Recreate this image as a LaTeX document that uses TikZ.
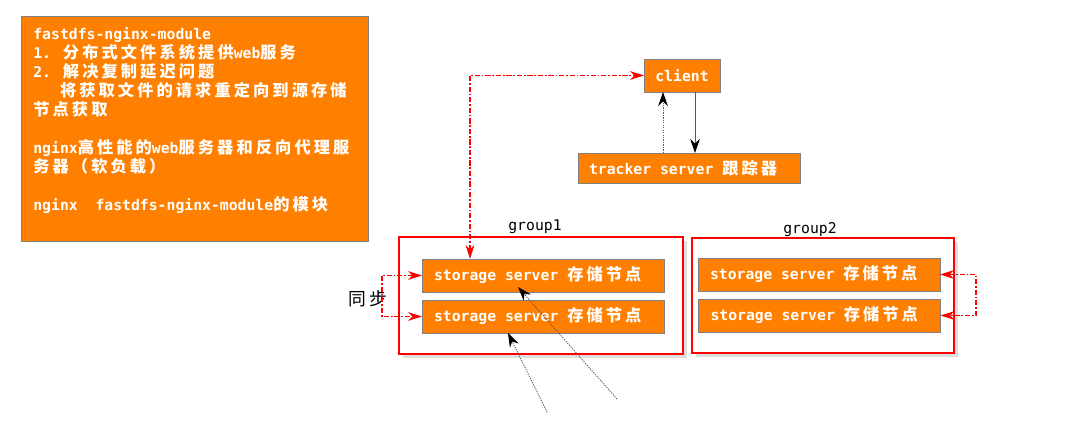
\documentclass[tikz,border=0pt]{standalone}
\usepackage{fontspec}
\setmainfont{DejaVu Sans Mono}
\newfontfamily\zh[Scale=1.1,LetterSpace=19]{Noto Sans CJK SC}
\usepackage{xcolor}
\usetikzlibrary{positioning}
\usetikzlibrary{arrows.meta}
\usetikzlibrary{shadows}

\definecolor{boxorange}{RGB}{255,128,0}
\definecolor{boxgray}{RGB}{128,128,128}
\newdimen\px \px=0.02cm
\newcommand\boxfont{\bfseries\fontsize{8.4}{10.8}\selectfont}

\begin{document}
\begin{tikzpicture}[x=0.02cm, y=-0.02cm,
                	    orangebox/.style = { draw = boxgray, fill = boxorange, text = white, font = \boxfont, inner sep=0pt, outer sep=0pt },
                		storagebox/.style = { orangebox, minimum height = 33\px, text width = 218\px, inner xsep = 12\px, align = flush left },
                		groupbox/.style = { draw = red, fill = white, line width = 0.6pt, inner sep=0pt, drop shadow = {shadow xshift = 2pt, shadow yshift = -2pt, opacity = 0.25, fill = gray} },
                		grouplabel/.style = { font = \fontsize{8.4}{10}\selectfont, text = black, inner sep=0pt },
                		redlink/.style = { red, line width = 0.6pt, dash pattern = on 3pt off 1pt on 1pt off 1pt, {Stealth[length=8pt, width=5pt, red]}-{Stealth[length=8pt, width=5pt, red]} },
                		graylink/.style = { gray!70!black, line width = 0.5pt, -{Stealth[length=8pt, width=5.5pt, black]} },
                		dotlink/.style = { graylink, dash pattern = on 0.7pt off 0.7pt },
            		]
            		    \useasboundingbox (0,0) rectangle (1085,442);

            		    % note box
            		    \node[orangebox, minimum width = 347\px, minimum height = 225\px] (Info) at (194.5,128.5) {};
            		    \node[font = \boxfont, text = white, align = flush left, inner sep=0pt, below right = 11\px and 12\px of Info.north west] (InfoText) {%
            		        fastdfs-nginx-module\\
            		        1. {\zh 分布式文件系统提供}web{\zh 服务}\\
            		        2. {\zh 解决复制延迟问题}\\
            		        \phantom{000}{\zh 将获取文件的请求重定向到源存储}\\
            		        {\zh 节点获取}\\[10.8pt]
            		        nginx{\zh 高性能的}web{\zh 服务器和反向代理服}\\
            		        {\zh 务器（软负载）}\\[10.8pt]
            		        nginx~~fastdfs-nginx-module{\zh 的模块}};

            		    % client and tracker
            		    \node[orangebox, minimum width = 76\px, minimum height = 33\px] (Client) at (682,75.5) {client};
            		    \node[orangebox, minimum height = 30\px, text width = 200\px, inner xsep = 11\px, align = flush left] (Tracker) at (689,168) {tracker server {\zh 跟踪器}};
            		    \draw[dotlink] ([xshift=-26\px]Tracker.north) -- ([xshift=-19\px]Client.south);
            		    \draw[graylink] ([xshift=13\px]Client.south) -- ([xshift=6\px]Tracker.north);

            		    % groups
            		    \node[groupbox, minimum width = 284\px, minimum height = 117\px] (GroupA) at (541,295.5) {};
            		    \node[groupbox, minimum width = 262\px, minimum height = 115\px] (GroupB) at (823,295.5) {};
            		    \node[grouplabel] (GroupALabel) at (535,227) {group1};
            		    \node[grouplabel] (GroupBLabel) at (810,230) {group2};

            		    \node[storagebox] (StoreA1) at (543,275.5) {storage server {\zh 存储节点}};
            		    \node[storagebox] (StoreA2) at (543,316.5) {storage server {\zh 存储节点}};
            		    \node[storagebox] (StoreB1) at (819,274.5) {storage server {\zh 存储节点}};
            		    \node[storagebox] (StoreB2) at (819.5,315.5) {storage server {\zh 存储节点}};

            		    % sync
            		    \node[font = \zh\fontsize{9.2}{10}\selectfont, inner sep=0pt] (Sync) at (368,299) {同步};
            		    \draw[redlink] (StoreA1.west) -- ++(-40,0) |- (StoreA2.west);
            		    \draw[redlink] (StoreB1.east) -- ++(36,0) |- (StoreB2.east);
            		    \draw[redlink] ([xshift=-73\px]StoreA1.north) |- (Client.west);

            		    % requests from below
            		    \coordinate (ReqA) at (547,412);
            		    \coordinate (ReqB) at (617,399);
            		    \draw[dotlink] (ReqA) -- ([xshift=-35\px]StoreA2.south);
            		    \draw[dotlink] (ReqB) -- ([xshift=-25\px, yshift=5\px]StoreA1.south);
            		\end{tikzpicture}
\end{document}
